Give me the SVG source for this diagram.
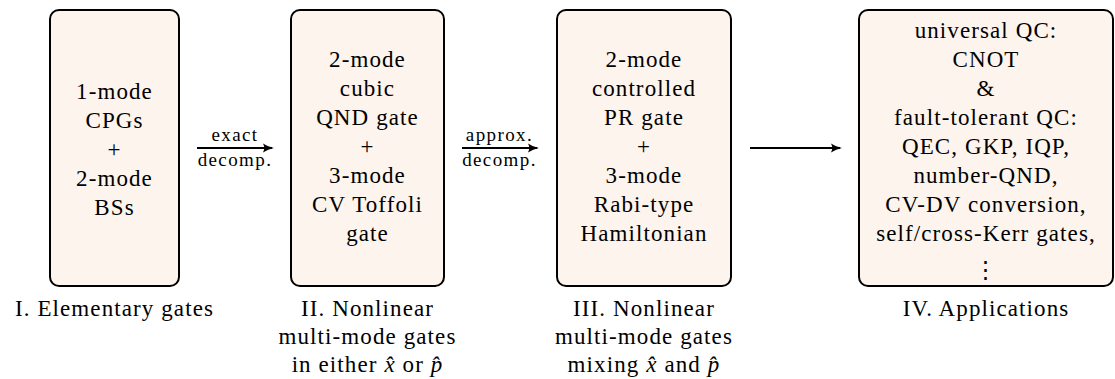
<svg xmlns="http://www.w3.org/2000/svg" width="1115" height="379" viewBox="0 0 1115 379">
<style>
.box{fill:#fdf4ee;stroke:#000;stroke-width:2}
.t{font-family:"Liberation Serif","DejaVu Serif",serif;font-size:23px;letter-spacing:1.1px;fill:#000;text-anchor:middle}
.s{font-family:"Liberation Serif","DejaVu Serif",serif;font-size:19px;letter-spacing:1.4px;fill:#000;text-anchor:middle}
.c{stroke:#000;stroke-width:1.8;fill:none}
</style>
<defs>
<marker id="ah" markerWidth="12" markerHeight="12" refX="9" refY="6" orient="auto" markerUnits="userSpaceOnUse">
<path d="M0,1.5 Q5,5 11,6 Q5,7 0,10.5 Q2.5,6 0,1.5 Z" fill="#000"/>
</marker>
</defs>
<g id="n1">
<rect class="box" x="50" y="10" width="129" height="276" rx="9"/>
<text class="t" x="114.5" y="99">1-mode</text>
<text class="t" x="114.5" y="128">CPGs</text>
<text class="t" x="114.5" y="157">+</text>
<text class="t" x="114.5" y="186">2-mode</text>
<text class="t" x="114.5" y="215">BSs</text>
<text class="t" x="114.5" y="316">I. Elementary gates</text>
</g>
<g id="n2">
<rect class="box" x="291" y="10" width="153" height="276" rx="9"/>
<text class="t" x="367.5" y="67">2-mode</text>
<text class="t" x="367.5" y="96">cubic</text>
<text class="t" x="367.5" y="125">QND gate</text>
<text class="t" x="367.5" y="154">+</text>
<text class="t" x="367.5" y="183">3-mode</text>
<text class="t" x="367.5" y="212">CV Toffoli</text>
<text class="t" x="367.5" y="241">gate</text>
<text class="t" x="367.5" y="316">II. Nonlinear</text>
<text class="t" x="367.5" y="344">multi-mode gates</text>
<text class="t" x="367.5" y="372">in either <tspan font-style="italic">x̂</tspan> or <tspan font-style="italic">p̂</tspan></text>
</g>
<g id="n3">
<rect class="box" x="557" y="10" width="174" height="276" rx="9"/>
<text class="t" x="644" y="67">2-mode</text>
<text class="t" x="644" y="96">controlled</text>
<text class="t" x="644" y="125">PR gate</text>
<text class="t" x="644" y="154">+</text>
<text class="t" x="644" y="183">3-mode</text>
<text class="t" x="644" y="212">Rabi-type</text>
<text class="t" x="644" y="241">Hamiltonian</text>
<text class="t" x="644" y="316">III. Nonlinear</text>
<text class="t" x="644" y="344">multi-mode gates</text>
<text class="t" x="644" y="372">mixing <tspan font-style="italic">x̂</tspan> and <tspan font-style="italic">p̂</tspan></text>
</g>
<g id="n4">
<rect class="box" x="859" y="10" width="254" height="276" rx="9"/>
<text class="t" x="986" y="38">universal QC:</text>
<text class="t" x="986" y="67">CNOT</text>
<text class="t" x="986" y="96">&amp;</text>
<text class="t" x="986" y="125">fault-tolerant QC:</text>
<text class="t" x="986" y="154">QEC, GKP, IQP,</text>
<text class="t" x="986" y="183">number-QND,</text>
<text class="t" x="986" y="212">CV-DV conversion,</text>
<text class="t" x="986" y="241">self/cross-Kerr gates,</text>
<text class="t" x="986" y="277">⋮</text>
<text class="t" x="986" y="316">IV. Applications</text>
</g>
<g id="connectors">
<line class="c" x1="197" y1="148" x2="272" y2="148" marker-end="url(#ah)"/>
<text class="s" x="235" y="141">exact</text>
<text class="s" x="235" y="166">decomp.</text>
<line class="c" x1="462" y1="148" x2="537" y2="148" marker-end="url(#ah)"/>
<text class="s" x="499.5" y="141">approx.</text>
<text class="s" x="499.5" y="166">decomp.</text>
<line class="c" x1="750" y1="148" x2="840" y2="148" marker-end="url(#ah)"/>
</g>
</svg>
